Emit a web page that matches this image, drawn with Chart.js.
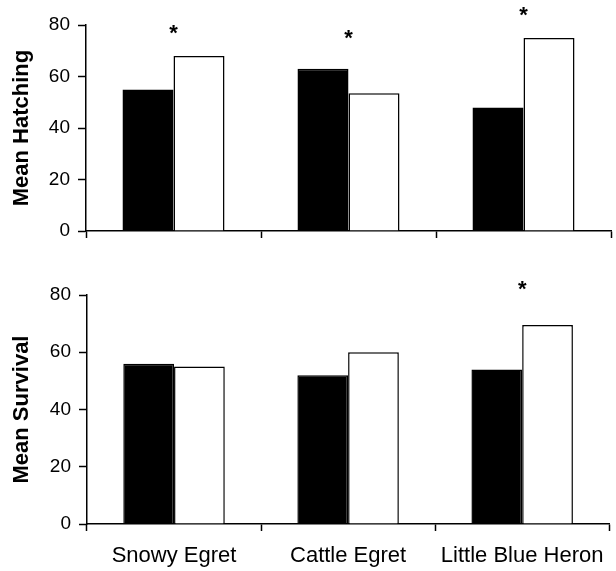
<!DOCTYPE html>
<html>
<head>
<meta charset="utf-8">
<script src="https://cdn.jsdelivr.net/npm/chart.js@4"></script>
<style>
  body { margin: 0; background: #fff; }
  #wrap { position: relative; width: 616px; height: 571px; }
  #top { position: absolute; left: 0; top: 0; }
  #bottom { position: absolute; left: 0; top: 260px; }
</style>
</head>
<body>
<div id="wrap">
  <canvas id="top" width="616" height="260"></canvas>
  <canvas id="bottom" width="616" height="311"></canvas>
</div>
<script>
// data
const categories = ['Snowy Egret', 'Cattle Egret', 'Little Blue Heron'];
const hatchingBlack = [55, 63, 48];
const hatchingWhite = [68, 53.5, 75];
const survivalBlack = [56, 52, 54];
const survivalWhite = [55, 60, 69.5];
const yTicks = [0, 20, 40, 60, 80];
// where the significance asterisks sit (y value), null = none
const hatchingStars = [79, 77, 86];
const survivalStars = [null, null, 84];

const FONT = "'Liberation Sans', Arial, sans-serif";

// draws the "*" marks above the bars
const starPlugin = {
    id: 'stars',
    afterDatasetsDraw(chart, args, opts) {
        const ctx = chart.ctx;
        const x = chart.scales.x, y = chart.scales.y;
        ctx.save();
        ctx.fillStyle = '#000';
        ctx.font = 'bold 22px ' + FONT;
        ctx.textAlign = 'center';
        ctx.textBaseline = 'alphabetic';
        opts.values.forEach((v, i) => {
            if (v == null) return;
            ctx.fillText('*', x.getPixelForValue(i), y.getPixelForValue(v) + 12);
        });
        ctx.restore();
    }
};

function makeChart(id, title, black, white, stars, showLabels, sizes) {
    const ctx = document.getElementById(id).getContext('2d');
    return new Chart(ctx, {
        type: 'bar',
        data: {
            labels: categories,
            datasets: [{
                data: black,
                backgroundColor: '#000',
                borderColor: '#000',
                borderWidth: 1.5,
                categoryPercentage: 0.583,
                barPercentage: 1
            }, {
                data: white,
                backgroundColor: '#fff',
                borderColor: '#000',
                borderWidth: 1.5,
                categoryPercentage: 0.583,
                barPercentage: 1
            }]
        },
        options: {
            responsive: false,
            animation: false,
            layout: { padding: { left: 0, right: sizes.right, top: sizes.top, bottom: 0 } },
            plugins: {
                legend: { display: false },
                tooltip: { enabled: false },
                stars: { values: stars }
            },
            scales: {
                x: {
                    offset: true,
                    grid: {
                        offset: true,
                        drawOnChartArea: false,
                        drawTicks: true,
                        tickLength: 7,
                        tickWidth: 1.5,
                        color: '#000'
                    },
                    border: { display: true, color: '#000', width: 1.5 },
                    ticks: {
                        display: showLabels,
                        color: '#000',
                        padding: 12,
                        font: { family: FONT, size: 22 },
                        maxRotation: 0
                    },
                    afterFit(scale) { scale.height = sizes.xh; }
                },
                y: {
                    min: 0,
                    max: 80,
                    afterBuildTicks(scale) { scale.ticks = yTicks.map(v => ({ value: v })); },
                    grid: {
                        drawOnChartArea: false,
                        drawTicks: true,
                        tickLength: 8,
                        tickWidth: 1.5,
                        color: '#000'
                    },
                    border: { display: true, color: '#000', width: 1.5 },
                    ticks: {
                        color: '#000',
                        padding: 8,
                        font: { family: FONT, size: 19 }
                    },
                    title: {
                        display: true,
                        text: title,
                        color: '#000',
                        padding: { top: 9, bottom: 0 },
                        font: { family: FONT, size: 22, weight: 'bold' }
                    },
                    afterFit(scale) { scale.width = sizes.yw; }
                }
            }
        },
        plugins: [starPlugin]
    });
}

makeChart('top', 'Mean Hatching', hatchingBlack, hatchingWhite, hatchingStars, false,
    { top: 25, right: 5, xh: 29, yw: 86 });
makeChart('bottom', 'Mean Survival', survivalBlack, survivalWhite, survivalStars, true,
    { top: 35, right: 3, xh: 47, yw: 87 });
</script>
</body>
</html>
